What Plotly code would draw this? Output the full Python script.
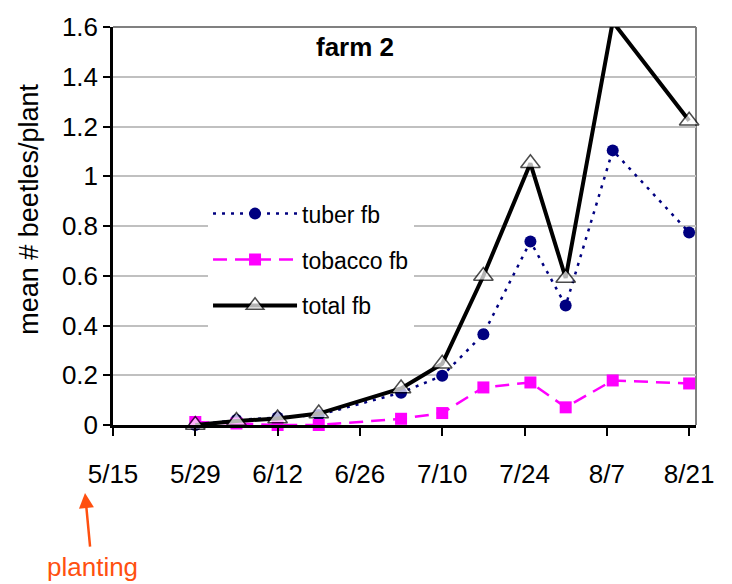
import plotly.graph_objects as go

dates = ["2003-05-29", "2003-06-05", "2003-06-12", "2003-06-19", "2003-07-03",
         "2003-07-10", "2003-07-17", "2003-07-25", "2003-07-31", "2003-08-08", "2003-08-21"]
tuber = [0.00, 0.02, 0.03, 0.04, 0.13, 0.198, 0.365, 0.738, 0.48, 1.104, 0.774]
tobacco = [0.012, 0.006, 0.0, 0.0, 0.025, 0.048, 0.151, 0.171, 0.071, 0.179, 0.167]
total = [0.0, 0.016, 0.026, 0.046, 0.147, 0.246, 0.599, 1.052, 0.591, 1.621, 1.223]

y_max = 1.6
y_ticks = [0, 0.2, 0.4, 0.6, 0.8, 1.0, 1.2, 1.4, 1.6]
y_ticklabels = ["0", "0.2", "0.4", "0.6", "0.8", "1", "1.2", "1.4", "1.6"]
x_start = "2003-05-15"
x_end = "2003-08-22 04:00"

FONT = "Liberation Sans, Arial, sans-serif"
ORANGE = "#FF5010"

fig = go.Figure()
fig.add_trace(go.Scatter(
    x=dates, y=tuber, name="tuber fb", mode="lines+markers",
    line=dict(color="#000080", width=2.5, dash="3px,6px"),
    marker=dict(symbol="circle", size=12, color="#000080"),
    legendgroup="a", cliponaxis=False))
fig.add_trace(go.Scatter(
    x=dates, y=tobacco, name="tobacco fb", mode="lines+markers",
    line=dict(color="#FF00FF", width=2.5, dash="14px,8px"),
    marker=dict(symbol="square", size=12, color="#FF00FF"),
    legendgroup="b", cliponaxis=False))
fig.add_trace(go.Scatter(
    x=dates, y=total, name="total fb", mode="lines+markers",
    line=dict(color="black", width=4),
    marker=dict(symbol="triangle-up", size=[17 if v <= y_max else 0 for v in total],
                color="white", line=dict(color="black", width=1.5)),
    legendgroup="c", cliponaxis=False))

fig.update_layout(
    width=732, height=584,
    margin=dict(l=113, r=36, t=22, b=159),
    paper_bgcolor="white", plot_bgcolor="white",
    font=dict(family=FONT, color="black"),
    showlegend=True,
    legend=dict(x=0.163, y=0.585, xanchor="left", yanchor="top",
                bgcolor="white", borderwidth=0,
                font=dict(size=23, family=FONT),
                itemwidth=84, tracegroupgap=13, traceorder="grouped"),
    xaxis=dict(type="date", range=[x_start, x_end],
               tick0=x_start, dtick=14 * 86400000, tickformat="%-m/%-d",
               ticks="outside", ticklen=8, tickwidth=2, tickcolor="black",
               showline=True, linecolor="black", linewidth=2.5,
               showgrid=False, zeroline=False,
               tickfont=dict(size=26, family=FONT),
               ticklabelstandoff=16),
    yaxis=dict(range=[0, y_max], tickvals=y_ticks, ticktext=y_ticklabels,
               ticks="outside", ticklen=7, tickwidth=2, tickcolor="black",
               showline=True, linecolor="black", linewidth=2.5,
               showgrid=True, gridcolor="#c0c0c0", gridwidth=2,
               zeroline=False,
               tickfont=dict(size=26, family=FONT)),
    shapes=[
        dict(type="line", xref="paper", yref="paper", x0=0, x1=1, y0=1, y1=1,
             line=dict(color="#808080", width=2), layer="below"),
        dict(type="line", xref="paper", yref="paper", x0=1, x1=1, y0=0, y1=1,
             line=dict(color="#808080", width=2), layer="below"),
    ],
    annotations=[
        dict(text="<b>farm 2</b>", xref="paper", yref="paper", x=0.415, y=0.95,
             xanchor="center", yanchor="middle",
             showarrow=False, font=dict(size=26, family=FONT, color="black")),
        dict(text="mean # beetles/plant", xref="paper", yref="paper",
             x=-0.144, y=0.541, xanchor="center", yanchor="middle",
             textangle=-90, showarrow=False,
             font=dict(size=27, family=FONT, color="black")),
        dict(text="planting", xref="paper", yref="paper", x=-0.048, y=-0.171,
             showarrow=True, ax=7, ay=74, axref="pixel", ayref="pixel",
             arrowhead=2, arrowsize=1.2, arrowwidth=2.5, arrowcolor=ORANGE,
             standoff=0, startstandoff=4,
             font=dict(size=26, family=FONT, color=ORANGE)),
    ],
)

fig.write_html("out.html")
